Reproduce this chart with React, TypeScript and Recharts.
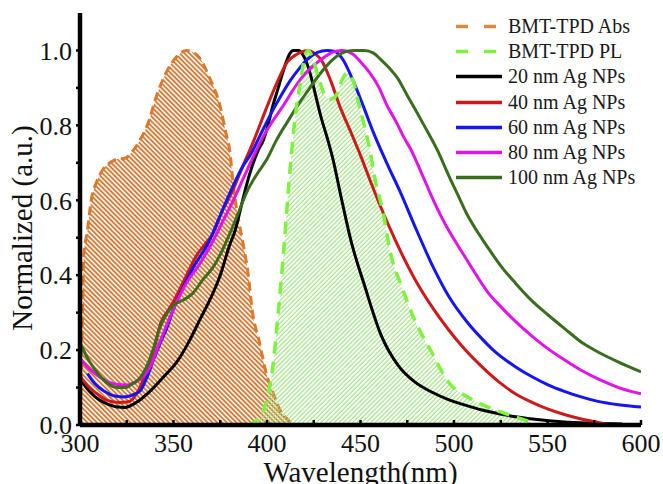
import React from 'react';
import { ComposedChart, Line, Area, XAxis, YAxis, Legend } from 'recharts';

// ---- data (wavelength nm, normalized intensity) ----
const absData: [number, number][] = [
  [300, 0], [301, 0.2], [302, 0.45], [304, 0.52], [306, 0.6], [309, 0.65], [312, 0.68], [316, 0.7],
  [320, 0.71], [324, 0.712], [328, 0.73], [332, 0.76], [336, 0.8], [341, 0.88], [346, 0.94],
  [352, 0.985], [357, 1.0], [364, 0.98], [369, 0.93], [375, 0.85], [378, 0.78], [380, 0.735],
  [382, 0.64], [384, 0.57], [387, 0.49], [390, 0.4], [392, 0.31], [396, 0.22], [400, 0.13],
  [403, 0.09], [407, 0.04], [411, 0.015], [414, 0],
];

const plData: [number, number][] = [
  [390, 0], [396, 0.02], [400, 0.07], [403, 0.15], [406, 0.3], [409, 0.47], [411, 0.6], [413, 0.72],
  [415, 0.82], [418, 0.92], [420, 0.98], [422, 1.0], [425, 0.97], [428, 0.92], [431, 0.88],
  [434, 0.87], [437, 0.88], [440, 0.92], [443, 0.94], [446, 0.92], [449, 0.86], [452, 0.8],
  [455, 0.735], [458, 0.65], [462, 0.57], [466, 0.46], [472, 0.37], [479, 0.28], [488, 0.195],
  [497, 0.115], [509, 0.07], [525, 0.035], [538, 0.013], [545, 0],
];

const ag20: [number, number][] = [
  [300, 0.123], [305, 0.09], [310, 0.068], [315, 0.055], [320, 0.048], [324, 0.047], [330, 0.06],
  [337, 0.088], [345, 0.13], [352, 0.17], [358, 0.22], [364, 0.28], [370, 0.34], [375, 0.4],
  [380, 0.48], [383, 0.52], [386, 0.58], [389, 0.64], [392, 0.69], [395, 0.73], [398, 0.76],
  [400, 0.79], [403, 0.85], [406, 0.9], [409, 0.95], [412, 0.99], [414, 1.0], [417, 1.0],
  [419, 0.99], [421, 0.97], [423, 0.94], [426, 0.88], [429, 0.82], [432, 0.77], [435, 0.715],
  [440, 0.6], [445, 0.49], [452, 0.375], [461, 0.24], [470, 0.16], [479, 0.115], [488, 0.088],
  [497, 0.068], [506, 0.053], [515, 0.04], [524, 0.03], [533, 0.022], [542, 0.016], [559, 0.008],
  [575, 0.005], [590, 0.003],
];

const ag40: [number, number][] = [
  [300, 0.13], [305, 0.1], [310, 0.08], [315, 0.065], [321, 0.06], [326, 0.062], [331, 0.09],
  [336, 0.15], [340, 0.21], [343, 0.27], [347, 0.305], [350, 0.33], [357, 0.4], [362, 0.45],
  [368, 0.49], [371, 0.51], [376, 0.57], [382, 0.63], [387, 0.69], [393, 0.76], [400, 0.85],
  [405, 0.91], [411, 0.97], [416, 0.99], [422, 1.0], [426, 0.99], [429, 0.975], [434, 0.92],
  [439, 0.85], [445, 0.78], [450, 0.72], [455, 0.655], [461, 0.58], [468, 0.5], [479, 0.39],
  [489, 0.31], [497, 0.255], [504, 0.212], [515, 0.155], [524, 0.115], [533, 0.083], [542, 0.06],
  [550, 0.043], [559, 0.028], [568, 0.016], [577, 0.007], [584, 0.0],
];

const ag60: [number, number][] = [
  [304, 0.137], [308, 0.11], [313, 0.09], [318, 0.078], [323, 0.075], [328, 0.08], [332, 0.09],
  [336, 0.13], [339, 0.17], [343, 0.22], [346.5, 0.26], [350, 0.31], [353.5, 0.35], [360.5, 0.42],
  [369, 0.49], [375, 0.56], [382, 0.64], [387, 0.69], [391, 0.72], [396, 0.77], [402, 0.83],
  [407, 0.875], [412.5, 0.92], [417, 0.95], [421.5, 0.976], [427, 0.995], [432, 1.0], [436, 0.998],
  [440, 0.98], [446, 0.92], [451.6, 0.85], [457, 0.78], [464, 0.7], [471, 0.625], [480, 0.52],
  [489, 0.42], [497, 0.345], [507, 0.275], [515, 0.23], [521, 0.2], [533, 0.155], [542, 0.128],
  [550, 0.108], [559, 0.09], [568, 0.075], [577, 0.063], [588, 0.054], [600, 0.048],
];

const ag80: [number, number][] = [
  [300, 0.177], [305, 0.15], [310, 0.13], [315, 0.115], [320, 0.108], [325, 0.107], [330, 0.115],
  [334, 0.13], [338, 0.16], [341, 0.2], [345, 0.25], [350, 0.31], [357, 0.38], [364, 0.43],
  [371, 0.49], [377, 0.55], [382, 0.6], [387, 0.655], [393, 0.72], [398, 0.77], [403.5, 0.815],
  [409, 0.855], [414, 0.895], [419, 0.93], [425, 0.96], [430, 0.98], [435, 0.995], [440, 1.0],
  [446, 0.99], [450, 0.97], [455, 0.94], [460, 0.9], [464, 0.855], [469, 0.81], [473, 0.77],
  [477, 0.735], [482, 0.68], [489, 0.6], [496, 0.53], [502, 0.48], [507, 0.44], [512, 0.4],
  [518, 0.355], [525, 0.316], [533, 0.276], [542, 0.236], [548, 0.212], [559, 0.174], [568, 0.146],
  [577, 0.123], [588, 0.1], [600, 0.083],
];

const ag100: [number, number][] = [
  [300, 0.22], [305, 0.17], [310, 0.135], [315, 0.11], [320, 0.1], [324, 0.1], [328, 0.11],
  [332, 0.125], [336, 0.16], [339, 0.2], [342, 0.25], [345, 0.285], [350, 0.32], [355, 0.333],
  [360, 0.35], [366, 0.39], [371, 0.42], [375, 0.455], [380, 0.51], [385, 0.57], [389, 0.62],
  [394, 0.665], [400, 0.71], [405, 0.76], [411, 0.81], [416, 0.85], [421.5, 0.89], [428, 0.935],
  [434, 0.97], [440, 0.993], [446, 1.0], [452, 1.0], [457, 0.993], [461, 0.975], [466, 0.95],
  [470, 0.925], [475, 0.88], [479, 0.845], [484, 0.8], [491, 0.735], [497, 0.668], [502, 0.615],
  [507, 0.562], [511, 0.528], [515, 0.497], [520, 0.46], [525, 0.425], [533, 0.378], [542, 0.33],
  [550, 0.295], [559, 0.258], [569, 0.218], [577, 0.195], [588, 0.168], [600, 0.142],
];

const xTicks = [300, 325, 350, 375, 400, 425, 450, 475, 500, 525, 550, 575, 600];
const yTicks = [0, 0.1, 0.2, 0.3, 0.4, 0.5, 0.6, 0.7, 0.8, 0.9, 1.0];

const seriesNames = [
  'BMT-TPD Abs', 'BMT-TPD PL', '20 nm Ag NPs', '40 nm Ag NPs', '60 nm Ag NPs', '80 nm Ag NPs', '100 nm Ag NPs',
];

const FONT = 'Liberation Serif';
const C_ABS = '#DB7A2C';
const C_PL = '#7EF23E';
const C_20 = '#000000';
const C_40 = '#CC1A1A';
const C_60 = '#1414F5';
const C_80 = '#E014E6';
const C_100 = '#3A6E1E';

const legendItems = [
  { name: seriesNames[0], color: '#E0893E', dashed: true },
  { name: seriesNames[1], color: C_PL, dashed: true },
  { name: seriesNames[2], color: C_20, dashed: false },
  { name: seriesNames[3], color: C_40, dashed: false },
  { name: seriesNames[4], color: C_60, dashed: false },
  { name: seriesNames[5], color: C_80, dashed: false },
  { name: seriesNames[6], color: C_100, dashed: false },
];

const pts = (d: [number, number][]) => d.map(([x, y]) => ({ x, y }));

const LegendContent = () => (
  <div style={{ fontFamily: FONT, fontSize: 20, color: '#1a1a1a' }}>
    {legendItems.map((it) => (
      <div key={it.name} style={{ display: 'flex', alignItems: 'center', height: 25.2, whiteSpace: 'nowrap' }}>
        <svg width={48} height={25} style={{ display: 'block' }}>
          <line
            x1={0}
            y1={12.5}
            x2={46}
            y2={12.5}
            stroke={it.color}
            strokeWidth={3.5}
            strokeDasharray={it.dashed ? '12 16' : undefined}
          />
        </svg>
        <span style={{ marginLeft: 4, lineHeight: '25px' }}>{it.name}</span>
      </div>
    ))}
  </div>
);

const XTitle = (props: any) => {
  const vb = props.viewBox || { x: 80, y: 425, width: 561, height: 59 };
  return (
    <text
      x={vb.x + vb.width / 2}
      y={vb.y + vb.height - 2}
      textAnchor="middle"
      style={{ fontFamily: FONT, fontSize: 29 }}
      fill="#111"
    >
      Wavelength(nm)
    </text>
  );
};

const YTitle = (props: any) => {
  const vb = props.viewBox || { x: 0, y: 13, width: 80, height: 412 };
  const cx = vb.x + 32;
  const cy = vb.y + vb.height / 2 + 9;
  return (
    <text
      x={cx}
      y={cy}
      transform={`rotate(-90 ${cx} ${cy})`}
      textAnchor="middle"
      style={{ fontFamily: FONT, fontSize: 29 }}
      fill="#111"
    >
      Normalized (a.u.)
    </text>
  );
};

export default function App() {
  return (
    <div style={{ position: 'absolute', left: 0, top: 0, width: 663, height: 484, background: '#fff', fontFamily: FONT }}>
      <ComposedChart width={663} height={484} margin={{ top: 13, right: 22, bottom: 0, left: 0 }} style={{ fontFamily: FONT }}>
        <defs>
          <pattern id="hatchAbs" width="3.4" height="3.4" patternUnits="userSpaceOnUse" patternTransform="rotate(-45)">
            <line x1="1" y1="0" x2="1" y2="3.4" stroke="#D4722A" strokeWidth="1.8" />
          </pattern>
          <pattern id="hatchPL" width="3.2" height="3.2" patternUnits="userSpaceOnUse" patternTransform="rotate(45)">
            <line x1="1" y1="0" x2="1" y2="3.2" stroke="#9BE37A" strokeWidth="1.1" />
          </pattern>
        </defs>
        <XAxis
          type="number"
          dataKey="x"
          domain={[300, 600]}
          ticks={xTicks}
          interval={0}
          allowDataOverflow
          tickFormatter={(v: number) => (v % 50 === 0 ? String(v) : '')}
          height={59}
          tickSize={-5}
          tickMargin={14}
          axisLine={{ stroke: '#000', strokeWidth: 4.5 }}
          tickLine={{ stroke: '#000', strokeWidth: 2.5 }}
          tick={{ fill: '#111', fontSize: 26, fontFamily: FONT }}
          label={{ content: XTitle }}
        />
        <XAxis
          xAxisId="top"
          orientation="top"
          type="number"
          domain={[300, 600]}
          height={0}
          tick={false}
          tickLine={false}
          axisLine={{ stroke: '#000', strokeWidth: 4.5 }}
        />
        <YAxis
          type="number"
          domain={[0, 1.1]}
          ticks={yTicks}
          interval={0}
          allowDataOverflow
          tickFormatter={(v: number) => (Math.round(v * 10) % 2 === 0 ? v.toFixed(1) : '')}
          width={80}
          tickSize={4}
          tickMargin={4}
          axisLine={{ stroke: '#000', strokeWidth: 4.5 }}
          tickLine={{ stroke: '#000', strokeWidth: 2.5 }}
          tick={{ fill: '#111', fontSize: 26, fontFamily: FONT }}
          label={{ content: YTitle }}
        />
        <YAxis
          yAxisId="right"
          orientation="right"
          type="number"
          domain={[0, 1.1]}
          width={0}
          tick={false}
          tickLine={false}
          axisLine={{ stroke: '#000', strokeWidth: 4.5 }}
        />
        <Area
          data={pts(absData)}
          dataKey="y"
          type="monotone"
          stroke={C_ABS}
          strokeWidth={3}
          strokeDasharray="9 5"
          fill="url(#hatchAbs)"
          fillOpacity={1}
          isAnimationActive={false}
          dot={false}
          activeDot={false}
        />
        <Area
          data={pts(plData)}
          dataKey="y"
          type="monotone"
          stroke="none"
          fill="url(#hatchPL)"
          fillOpacity={1}
          isAnimationActive={false}
          dot={false}
          activeDot={false}
        />
        <Line data={pts(ag20)} dataKey="y" type="monotone" stroke={C_20} strokeWidth={3} dot={false} isAnimationActive={false} />
        <Line data={pts(ag40)} dataKey="y" type="monotone" stroke={C_40} strokeWidth={3} dot={false} isAnimationActive={false} />
        <Line data={pts(ag60)} dataKey="y" type="monotone" stroke={C_60} strokeWidth={3} dot={false} isAnimationActive={false} />
        <Line data={pts(ag80)} dataKey="y" type="monotone" stroke={C_80} strokeWidth={3} dot={false} isAnimationActive={false} />
        <Line data={pts(ag100)} dataKey="y" type="monotone" stroke={C_100} strokeWidth={3} dot={false} isAnimationActive={false} />
        <Line
          data={pts(plData)}
          dataKey="y"
          type="monotone"
          stroke={C_PL}
          strokeWidth={3.5}
          strokeDasharray="12 8"
          dot={false}
          isAnimationActive={false}
        />
        <Legend
          layout="horizontal"
          verticalAlign="middle"
          align="center"
          content={LegendContent}
          wrapperStyle={{ position: 'absolute', top: 14, left: 456, width: 'auto', height: 'auto' }}
        />
      </ComposedChart>
    </div>
  );
}
